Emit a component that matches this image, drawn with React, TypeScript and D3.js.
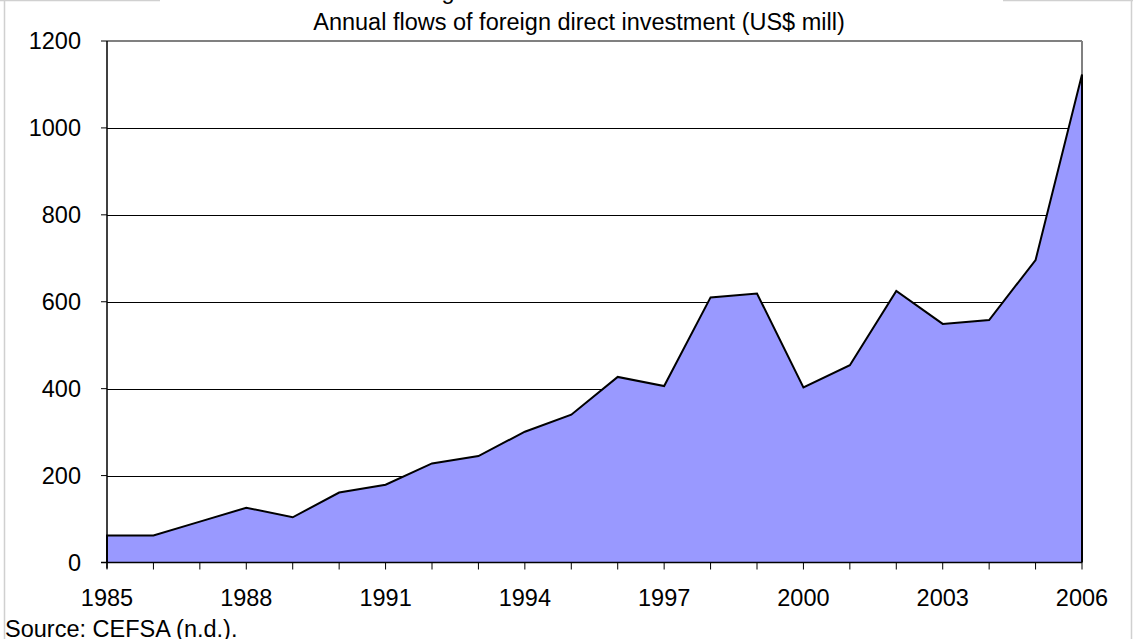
import React from "react";
import * as d3 from "d3";

const years = [1985,1986,1987,1988,1989,1990,1991,1992,1993,1994,1995,1996,1997,1998,1999,2000,2001,2002,2003,2004,2005,2006];
const fdi = [62,62,94,126,104,161,179,228,245,301,340,427,406,610,619,403,454,625,549,558,696,1123];
const yTicks = [0,200,400,600,800,1000,1200];
const xTickLabels = [1985,1988,1991,1994,1997,2000,2003,2006];
const title = "Annual flows of foreign direct investment (US$ mill)";
const source = "Source: CEFSA (n.d.).";

export default function App() {
  const W = 1133, H = 639;
  const left = 107, right = 1082, top = 41, bottom = 562.5;
  const x = d3.scaleLinear().domain([1985, 2006]).range([left, right]);
  const y = d3.scaleLinear().domain([0, 1200]).range([bottom, top]);
  const data = years.map((yr, i) => ({ yr, v: fdi[i] }));
  const area = d3.area<any>().x(d => x(d.yr)).y0(y(0)).y1(d => y(d.v));
  const pts = [{ yr: 1985, v: 0 }, ...data, { yr: 2006, v: 0 }];
  const outline = d3.line<any>().x(d => x(d.yr)).y(d => y(d.v));
  const font = "'Liberation Sans', Arial, sans-serif";
  const fs = 23.5;
  return (
    <svg width={W} height={H} style={{ position: "absolute", left: 0, top: 0 }} fontFamily={font}>
      <rect x={0} y={0} width={W} height={H} fill="#fff" />
      {/* outer frame */}
      <line x1={4.5} y1={0} x2={4.5} y2={H} stroke="#d0d0d0" strokeWidth={1.5} />
      <line x1={1131.5} y1={0} x2={1131.5} y2={H} stroke="#d0d0d0" strokeWidth={1.5} />
      <line x1={0} y1={0.5} x2={160} y2={0.5} stroke="#d0d0d0" strokeWidth={1.5} />
      <line x1={1003} y1={0.5} x2={W} y2={0.5} stroke="#d0d0d0" strokeWidth={1.5} />
      <text x={448} y={-1} fontSize={fs} textAnchor="middle">g</text>
      <text x={579} y={30} fontSize={fs} textAnchor="middle">{title}</text>
      {/* grid */}
      {yTicks.filter(t => t > 0 && t < 1200).map(t => (
        <line key={t} x1={left} x2={right} y1={Math.round(y(t)) + 0.5} y2={Math.round(y(t)) + 0.5} stroke="#000" strokeWidth={1} />
      ))}
      <path d={area(data) || ""} fill="#9999ff" />
      {/* plot frame top/right */}
      <line x1={left} x2={right} y1={y(1200)} y2={y(1200)} stroke="#808080" strokeWidth={2} />
      <line x1={right} x2={right} y1={y(1200)} y2={bottom} stroke="#808080" strokeWidth={2} />
      <path d={outline(pts) || ""} fill="none" stroke="#000" strokeWidth={2} strokeLinejoin="miter" />
      {/* axes */}
      <line x1={left} x2={left} y1={top} y2={bottom + 6} stroke="#000" strokeWidth={1.5} />
      <line x1={left - 6} x2={right} y1={bottom} y2={bottom} stroke="#000" strokeWidth={1.5} />
      {yTicks.map(t => (
        <g key={t}>
          <line x1={left - 6} x2={left} y1={y(t)} y2={y(t)} stroke="#000" strokeWidth={1} />
          <text x={81} y={y(t)} dy="0.35em" fontSize={fs} textAnchor="end">{t}</text>
        </g>
      ))}
      {years.map(yr => (
        <line key={yr} x1={x(yr)} x2={x(yr)} y1={bottom} y2={bottom + 7} stroke="#000" strokeWidth={1} />
      ))}
      {xTickLabels.map(yr => (
        <text key={yr} x={x(yr)} y={606} fontSize={fs} textAnchor="middle">{yr}</text>
      ))}
      <text x={5} y={637} fontSize={fs}>{source}</text>
    </svg>
  );
}
